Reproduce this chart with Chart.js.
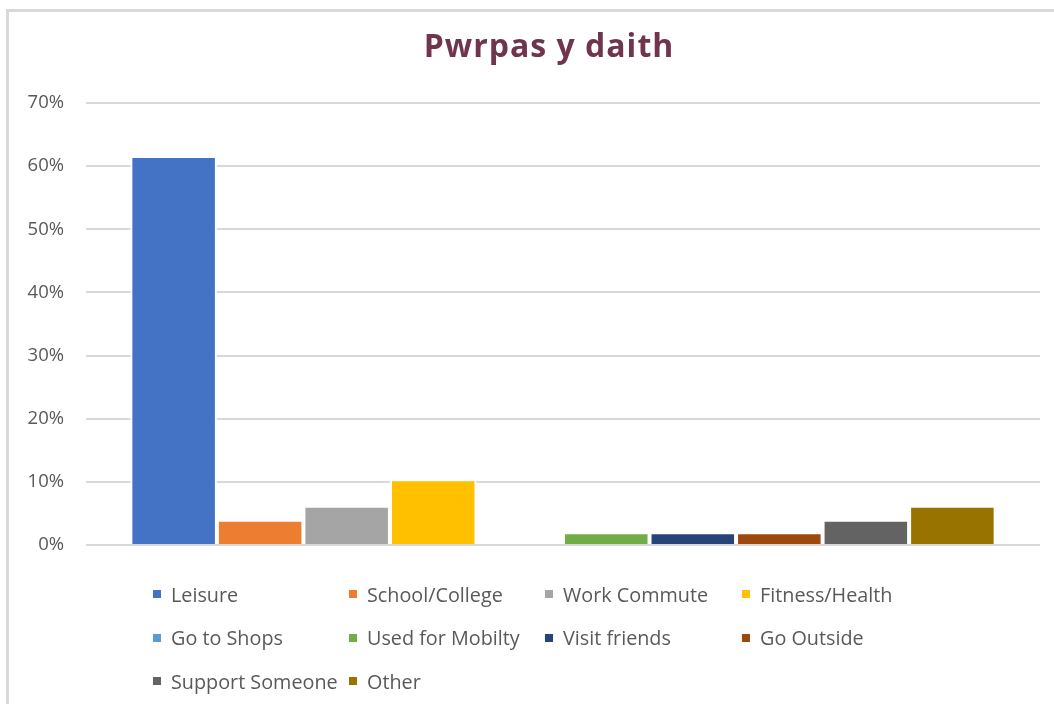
<!DOCTYPE html>
<html lang="cy">
<head>
<meta charset="UTF-8"/>
<title>Pwrpas y daith</title>
<style>
  body { margin:0; padding:0; background:#fff; }
  #wrap { position:relative; width:1054px; height:704px; overflow:hidden; background:#fff; font-family:'Open Sans', 'Noto Sans', sans-serif; }
  #frame { position:absolute; left:6px; top:9px; right:-10px; bottom:-10px; border-top:3px solid #d9d9d9; border-left:3px solid #d9d9d9; }
  #title { position:absolute; left:0; width:1098px; top:23px; text-align:center; font-size:32px; font-weight:700; color:#70344e; letter-spacing:1px; }
  #chart { position:absolute; left:0; top:0; }
  #legend { position:absolute; left:153px; top:580px; display:grid; grid-template-columns:196px 196px 197px 196px; grid-auto-rows:43.5px; }
  .item { display:flex; align-items:center; height:28px; font-size:19.8px; color:#595959; white-space:nowrap; }
  .item i { display:inline-block; width:8px; height:8px; margin-right:10px; }
</style>
<script src="https://cdn.jsdelivr.net/npm/chart.js"></script>
</head>
<body>
<div id="wrap">
  <div id="frame"></div>
  <canvas id="chart" width="1054" height="704"></canvas>
  <div id="title">Pwrpas y daith</div>
  <div id="legend"></div>
</div>
<script>
  // purpose of trip, share of responses (%)
  const purposes = ['Leisure', 'School/College', 'Work Commute', 'Fitness/Health', 'Go to Shops',
                    'Used for Mobilty', 'Visit friends', 'Go Outside', 'Support Someone', 'Other'];
  const shares   = [61.6, 4.0, 6.2, 10.4, 0, 2.0, 2.0, 2.0, 4.0, 6.2];
  const colours  = ['#4472c4', '#ed7d31', '#a5a5a5', '#ffc000', '#5b9bd5',
                    '#70ad47', '#264478', '#9e480e', '#636363', '#997300'];
  const yTicks   = [0, 10, 20, 30, 40, 50, 60, 70];

  const chart = new Chart(document.getElementById('chart'), {
    type: 'bar',
    data: {
      labels: [''],
      datasets: purposes.map((p, i) => ({
        label: p,
        data: [shares[i]],
        backgroundColor: colours[i],
        borderColor: '#ffffff',
        borderWidth: 2,
        categoryPercentage: 0.907,
        barPercentage: 1
      }))
    },
    options: {
      responsive: false,
      animation: false,
      layout: { padding: { left: 20, right: 14, top: 103, bottom: 159 } },
      plugins: {
        legend: { display: false },
        title: { display: false },
        tooltip: { enabled: false }
      },
      scales: {
        x: { display: false },
        y: {
          min: 0,
          max: yTicks[yTicks.length - 1],
          afterBuildTicks: axis => { axis.ticks = yTicks.map(v => ({ value: v })); },
          afterFit: axis => { axis.width = 66; },
          border: { display: false },
          grid: { color: '#d9d9d9', lineWidth: 2, drawTicks: false },
          ticks: {
            padding: 22,
            color: '#595959',
            font: { family: "'Open Sans', 'Noto Sans', sans-serif", size: 18.5 },
            callback: v => v + '%'
          }
        }
      }
    }
  });

  // legend laid out in columns like the original
  const legend = document.getElementById('legend');
  chart.data.datasets.forEach(ds => {
    const d = document.createElement('div');
    d.className = 'item';
    d.innerHTML = '<i style="background:' + ds.backgroundColor + '"></i>' + ds.label;
    legend.appendChild(d);
  });
</script>
</body>
</html>
